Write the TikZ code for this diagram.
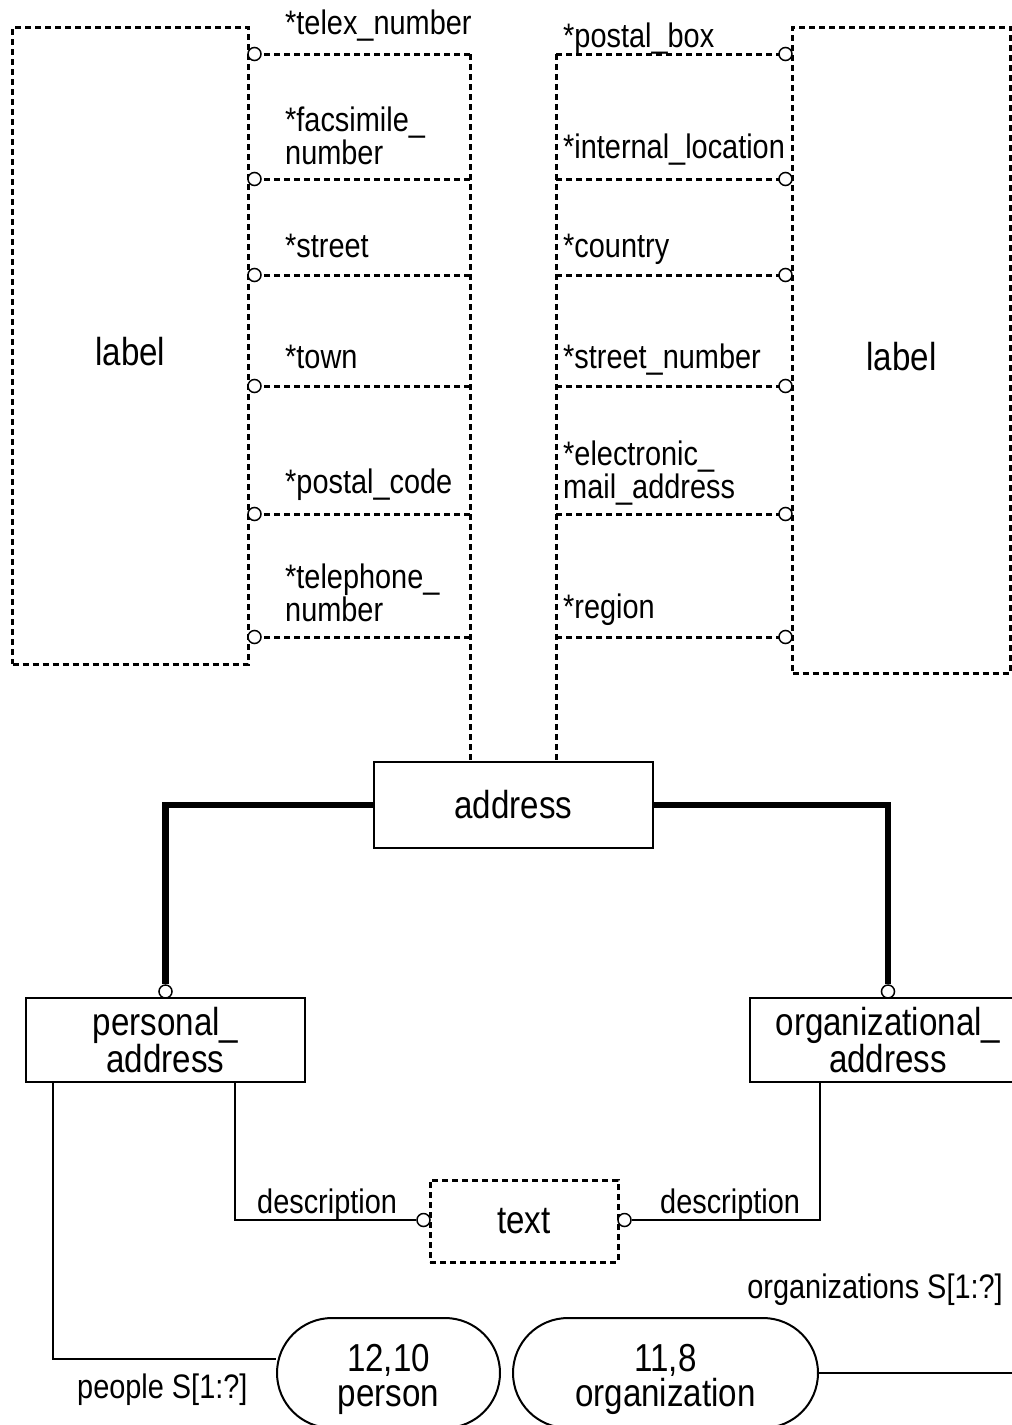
\documentclass[tikz,border=0pt]{standalone}
\usepackage{fontspec}
\setmainfont{Liberation Sans}[FakeStretch=0.85]
\usetikzlibrary{shapes.misc}

\tikzset{
  big/.style={font=\fontsize{39}{35}\selectfont},
  small/.style={font=\fontsize{34}{31}\selectfont},
  dotline/.style={line width=3pt, dash pattern=on 6pt off 4pt},
  entity/.style={draw, line width=2.2pt, big, align=center, inner sep=0pt},
  typebox/.style={draw, dotline, big, align=center, inner sep=0pt},
  oval/.style={draw, rounded rectangle, line width=2pt, big, align=center, inner sep=0pt, text height=66pt, text depth=0pt},
  ring/.style={circle, draw, solid, fill=white, line width=1.5pt, inner sep=0pt, minimum size=13pt},
  conn/.style={line width=2pt},
  subconn/.style={line width=6.5pt},
  attr/.style={small, anchor=base west, align=left, inner sep=0pt},
  role/.style={small, inner sep=0pt}
}

\begin{document}
\begin{tikzpicture}[x=1pt,y=-1pt]
        \useasboundingbox (0,0) rectangle (1012,1425);

        % defined types
        \node[typebox, minimum width=235.5pt, minimum height=637pt, text height=40pt, text depth=0pt] (labelL) at (130.25,345.5) {label};
        \node[typebox, minimum width=218pt, minimum height=646pt, text height=40pt, text depth=0pt] (labelR) at (901.5,350) {label};

        % entities
        \node[entity, minimum width=279pt, minimum height=86pt] (address) at (513.5,805) {address};
        \node[entity, minimum width=279pt, minimum height=84pt] (personal) at (165.5,1040) {personal\_\\address};
        \node[entity, minimum width=276pt, minimum height=84pt] (organizational) at (888,1040) {organizational\_\\address};
        \node[typebox, minimum width=188pt, minimum height=82pt] (text) at (524,1221) {text};
        \node[oval, minimum width=223pt, minimum height=110pt] (person) at (388.5,1373) {12,10\\person};
        \node[oval, minimum width=305pt, minimum height=110pt] (organization) at (665.5,1373) {11,8\\organization};

        % left attributes
        \coordinate (tL1) at (470,54);
        \coordinate (tL2) at (470,179);
        \coordinate (tL3) at (470,275);
        \coordinate (tL4) at (470,386);
        \coordinate (tL5) at (470,514);
        \coordinate (tL6) at (470,637);
        \draw[dotline] (tL1) -- (address.north -| tL1);
        \draw[dotline] (tL1) -- (254.5,54) node[ring] (rL1) {};
        \draw[dotline] (tL2) -- (254.5,179) node[ring] (rL2) {};
        \draw[dotline] (tL3) -- (254.5,275) node[ring] (rL3) {};
        \draw[dotline] (tL4) -- (254.5,386) node[ring] (rL4) {};
        \draw[dotline] (tL5) -- (254.5,514) node[ring] (rL5) {};
        \draw[dotline] (tL6) -- (254.5,637) node[ring] (rL6) {};

        \node[attr] (telex) at (285,34) {*telex\_number};
        \node[attr] (fax) at (285,164) {*facsimile\_\\number};
        \node[attr] (street) at (285,257) {*street};
        \node[attr] (town) at (285,368) {*town};
        \node[attr] (postcode) at (285,493) {*postal\_code};
        \node[attr] (phone) at (285,621) {*telephone\_\\number};

        % right attributes
        \coordinate (tR1) at (556,54);
        \coordinate (tR2) at (556,179);
        \coordinate (tR3) at (556,275);
        \coordinate (tR4) at (556,386);
        \coordinate (tR5) at (556,514);
        \coordinate (tR6) at (556,637);
        \draw[dotline] (tR1) -- (address.north -| tR1);
        \draw[dotline] (tR1) -- (785.5,54) node[ring] (rR1) {};
        \draw[dotline] (tR2) -- (785.5,179) node[ring] (rR2) {};
        \draw[dotline] (tR3) -- (785.5,275) node[ring] (rR3) {};
        \draw[dotline] (tR4) -- (785.5,386) node[ring] (rR4) {};
        \draw[dotline] (tR5) -- (785.5,514) node[ring] (rR5) {};
        \draw[dotline] (tR6) -- (785.5,637) node[ring] (rR6) {};

        \node[attr] (pobox) at (563,47) {*postal\_box};
        \node[attr] (internal) at (563,158) {*internal\_location};
        \node[attr] (country) at (563,257) {*country};
        \node[attr] (streetno) at (563,368) {*street\_number};
        \node[attr] (email) at (563,498) {*electronic\_\\mail\_address};
        \node[attr] (region) at (563,618) {*region};

        % subtypes
        \node[ring] (rP) at (165.5,991.5) {};
        \node[ring] (rO) at (888,991.5) {};
        \draw[subconn] (address.west) -| (rP.north);
        \draw[subconn] (address.east) -| (rO.north);

        % descriptions
        \node[ring] (rD1) at (423.5,1220) {};
        \node[ring] (rD2) at (624.5,1220) {};
        \draw[conn] (personal.south -| 235,0) |- (rD1.west);
        \draw[conn] (organizational.south -| 820,0) |- (rD2.east);
        \node[role, anchor=base west] (descP) at (257,1213) {description};
        \node[role, anchor=base west] (descO) at (660,1213) {description};

        % sets
        \coordinate (orgEnd) at (1020,1373);
        \draw[conn] (personal.south -| 53,0) |- ([yshift=14pt]person.west);
        \draw[conn] (organization.east) -- (orgEnd);
        \node[role, anchor=base west] (people) at (77,1398) {people S[1:?]};
        \node[role, anchor=base east] (orgs) at (1003,1298) {organizations S[1:?]};
    \end{tikzpicture}
\end{document}
